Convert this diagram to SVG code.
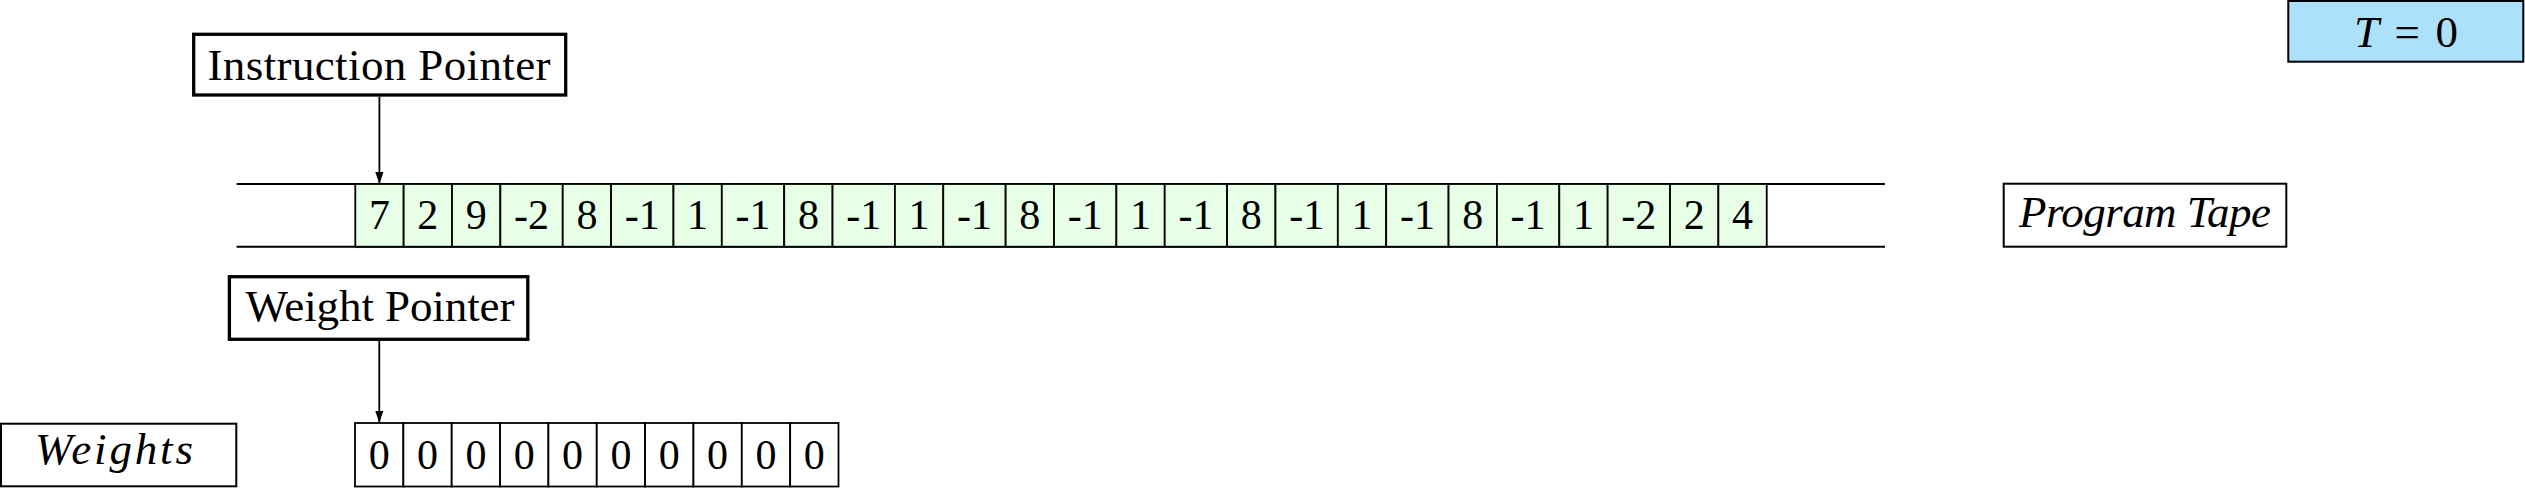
<svg xmlns="http://www.w3.org/2000/svg" width="2525" height="488" viewBox="0 0 2525 488">
<defs>
<marker id="ah" markerUnits="userSpaceOnUse" markerWidth="12" markerHeight="17" refX="16" refY="5.5" orient="auto" viewBox="0 0 16 11">
<path d="M0,0 L16,5.5 L0,11 Z" fill="#000"/>
</marker>
</defs>
<rect width="2525" height="488" fill="#fff"/>

<g id="time">
<rect x="2288.3" y="1" width="235" height="60.7" fill="#ADE0FA" stroke="#000" stroke-width="2"/>
<text font-family="Liberation Serif, serif" font-size="45" x="2354" y="46.7" textLength="104"><tspan font-style="italic">T</tspan> = 0</text>
</g>

<g id="instruction-pointer">
<rect x="193.7" y="34.3" width="372" height="60.7" fill="#fff" stroke="#000" stroke-width="3.3"/>
<text font-family="Liberation Serif, serif" font-size="45" x="207.5" y="80" textLength="343">Instruction Pointer</text>
</g>

<g id="program-tape">
<g stroke="#000" stroke-width="2">
<line x1="236.6" y1="184" x2="1885" y2="184"/>
<line x1="236.6" y1="246.7" x2="1885" y2="246.7"/>
</g>
<g fill="#E6FFE6" stroke="#000" stroke-width="1.8">
<rect x="355.3" y="184" width="48.35" height="62.7"/>
<rect x="403.65" y="184" width="48.35" height="62.7"/>
<rect x="452" y="184" width="48.35" height="62.7"/>
<rect x="500.35" y="184" width="62.38" height="62.7"/>
<rect x="562.73" y="184" width="48.35" height="62.7"/>
<rect x="611.08" y="184" width="62.38" height="62.7"/>
<rect x="673.46" y="184" width="48.35" height="62.7"/>
<rect x="721.81" y="184" width="62.38" height="62.7"/>
<rect x="784.19" y="184" width="48.35" height="62.7"/>
<rect x="832.54" y="184" width="62.38" height="62.7"/>
<rect x="894.92" y="184" width="48.35" height="62.7"/>
<rect x="943.27" y="184" width="62.38" height="62.7"/>
<rect x="1005.65" y="184" width="48.35" height="62.7"/>
<rect x="1054" y="184" width="62.38" height="62.7"/>
<rect x="1116.38" y="184" width="48.35" height="62.7"/>
<rect x="1164.73" y="184" width="62.38" height="62.7"/>
<rect x="1227.11" y="184" width="48.35" height="62.7"/>
<rect x="1275.46" y="184" width="62.38" height="62.7"/>
<rect x="1337.84" y="184" width="48.35" height="62.7"/>
<rect x="1386.19" y="184" width="62.38" height="62.7"/>
<rect x="1448.57" y="184" width="48.35" height="62.7"/>
<rect x="1496.92" y="184" width="62.38" height="62.7"/>
<rect x="1559.3" y="184" width="48.35" height="62.7"/>
<rect x="1607.65" y="184" width="62.38" height="62.7"/>
<rect x="1670.03" y="184" width="48.35" height="62.7"/>
<rect x="1718.38" y="184" width="48.35" height="62.7"/>
</g>
<g font-family="Liberation Serif, serif" font-size="42" fill="#000">
<text x="369" y="229.3">7</text>
<text x="417.3" y="229.3">2</text>
<text x="465.7" y="229.3">9</text>
<text x="514" y="229.3">-2</text>
<text x="576.4" y="229.3">8</text>
<text x="624.8" y="229.3">-1</text>
<text x="687.1" y="229.3">1</text>
<text x="735.5" y="229.3">-1</text>
<text x="797.9" y="229.3">8</text>
<text x="846.2" y="229.3">-1</text>
<text x="908.6" y="229.3">1</text>
<text x="957" y="229.3">-1</text>
<text x="1019.3" y="229.3">8</text>
<text x="1067.7" y="229.3">-1</text>
<text x="1130.1" y="229.3">1</text>
<text x="1178.4" y="229.3">-1</text>
<text x="1240.8" y="229.3">8</text>
<text x="1289.2" y="229.3">-1</text>
<text x="1351.5" y="229.3">1</text>
<text x="1399.9" y="229.3">-1</text>
<text x="1462.2" y="229.3">8</text>
<text x="1510.6" y="229.3">-1</text>
<text x="1573" y="229.3">1</text>
<text x="1621.3" y="229.3">-2</text>
<text x="1683.7" y="229.3">2</text>
<text x="1732.1" y="229.3">4</text>
</g>
</g>

<g id="program-tape-label">
<rect x="2003.7" y="183.7" width="282.6" height="63" fill="#fff" stroke="#000" stroke-width="2"/>
<text font-family="Liberation Serif, serif" font-size="45" font-style="italic" x="2019" y="226.7" textLength="252">Program Tape</text>
</g>

<g id="weight-pointer">
<rect x="229.4" y="276.7" width="298.4" height="62.6" fill="#fff" stroke="#000" stroke-width="3.3"/>
<text font-family="Liberation Serif, serif" font-size="45" x="245.5" y="321" textLength="269">Weight Pointer</text>
</g>

<g id="weights-label">
<rect x="1" y="423.7" width="235.3" height="62.6" fill="#fff" stroke="#000" stroke-width="2"/>
<text font-family="Liberation Serif, serif" font-size="45" font-style="italic" x="35" y="464" textLength="158">Weights</text>
</g>

<g id="weights">
<g fill="#fff" stroke="#000" stroke-width="1.8">
<rect x="355" y="423" width="48.35" height="63.5"/>
<rect x="403.35" y="423" width="48.35" height="63.5"/>
<rect x="451.7" y="423" width="48.35" height="63.5"/>
<rect x="500.05" y="423" width="48.35" height="63.5"/>
<rect x="548.4" y="423" width="48.35" height="63.5"/>
<rect x="596.75" y="423" width="48.35" height="63.5"/>
<rect x="645.1" y="423" width="48.35" height="63.5"/>
<rect x="693.45" y="423" width="48.35" height="63.5"/>
<rect x="741.8" y="423" width="48.35" height="63.5"/>
<rect x="790.15" y="423" width="48.35" height="63.5"/>
</g>
<g font-family="Liberation Serif, serif" font-size="42" fill="#000">
<text x="368.7" y="469">0</text>
<text x="417" y="469">0</text>
<text x="465.4" y="469">0</text>
<text x="513.7" y="469">0</text>
<text x="562.1" y="469">0</text>
<text x="610.4" y="469">0</text>
<text x="658.8" y="469">0</text>
<text x="707.1" y="469">0</text>
<text x="755.5" y="469">0</text>
<text x="803.8" y="469">0</text>
</g>
</g>

<g id="connectors" stroke="#000" stroke-width="1.8" fill="none" marker-end="url(#ah)">
<line x1="379.4" y1="96.7" x2="379.4" y2="184"/>
<line x1="379.3" y1="341" x2="379.3" y2="422.7"/>
</g>
</svg>
